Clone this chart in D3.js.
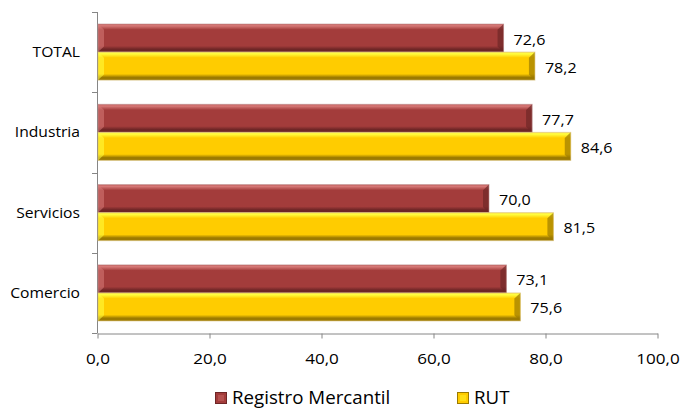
<!DOCTYPE html>
<html><head><meta charset="utf-8">
<script src="https://cdn.jsdelivr.net/npm/d3@7"></script>
<style>body{margin:0;background:#fff}svg{display:block}text{font-family:"Open Sans",sans-serif;fill:#000}</style>
</head><body><svg id="c" width="681" height="410"></svg>
<script>
const categories = ["TOTAL","Industria","Servicios","Comercio"];
const seriesNames = ["Registro Mercantil","RUT"];
const registroMercantil = [72.6, 77.7, 70.0, 73.1];
const rut = [78.2, 84.6, 81.5, 75.6];
const xTicks = [0,20,40,60,80,100];

const svg = d3.select("#c");
const W=681,H=410;
const m={left:97,right:24,top:12,bottom:77};
const x=d3.scaleLinear().domain([0,100]).range([m.left,W-m.right]);
const y=d3.scaleBand().domain(categories).range([m.top,H-m.bottom]).paddingInner(0.302).paddingOuter(0.15);
const fmt=v=>d3.format(".1f")(v).replace(".",",");

const defs=svg.append("defs");
const pal=[
  {name:"r",top:"#d77a78",main:"#a33c3b",dark:"#6e2626",edge:"#c45a58"},
  {name:"y",top:"#ffff40",main:"#ffcc00",dark:"#9c7a00",edge:"#ffe34a"}
];
pal.forEach(p=>{
  const g=defs.append("linearGradient").attr("id","g"+p.name).attr("x1",0).attr("y1",0).attr("x2",0).attr("y2",1);
  [[0,p.edge],[0.06,p.top],[0.2,p.main],[0.78,p.main],[0.9,p.dark],[1,p.dark]].forEach(s=>g.append("stop").attr("offset",s[0]).attr("stop-color",s[1]));
});

// y axis
const yAxisG=svg.append("g");
yAxisG.append("line").attr("x1",m.left+0.5).attr("x2",m.left+0.5).attr("y1",m.top).attr("y2",H-m.bottom).attr("stroke","#868686");
const bandStep=(H-m.bottom-m.top)/categories.length;
d3.range(categories.length+1).forEach(i=>{
  const yy=Math.round(m.top+i*bandStep)+0.5;
  yAxisG.append("line").attr("x1",m.left-5).attr("x2",m.left+0.5).attr("y1",yy).attr("y2",yy).attr("stroke","#868686");
});
// x axis
const xAxisG=svg.append("g").attr("transform",`translate(0.5,${H-m.bottom+0.5})`)
  .call(d3.axisBottom(x).tickValues(xTicks).tickFormat("").tickSizeInner(5).tickSizeOuter(0));
xAxisG.selectAll("line").attr("stroke","#868686");
xAxisG.select(".domain").attr("stroke","#868686");
svg.selectAll(".xt").data(xTicks).join("text").attr("class","xt")
  .attr("transform",d=>`translate(${x(d)+1},364) scale(1.22,1)`)
  .attr("text-anchor","middle").attr("font-size",14).text(fmt);

// category labels
svg.selectAll(".cat").data(categories).join("text").attr("class","cat")
  .attr("transform",d=>`translate(80,${y(d)+y.bandwidth()/2+5}) scale(1.08,1)`)
  .attr("text-anchor","end").attr("font-size",14.5).text(d=>d);

const sub=d3.scaleBand().domain([0,1]).range([0,y.bandwidth()]);
const rows=[];
categories.forEach((c,i)=>{rows.push({c,s:0,v:registroMercantil[i]});rows.push({c,s:1,v:rut[i]});});

const bar=svg.selectAll(".bar").data(rows).join("g").attr("class","bar")
  .attr("transform",d=>`translate(0,${y(d.c)+sub(d.s)})`);
const bh=sub.bandwidth();
const x0=x(0)+1;
bar.append("rect").attr("x",x0).attr("y",0).attr("width",d=>x(d.v)-x0).attr("height",bh)
  .attr("fill",d=>`url(#g${pal[d.s].name})`);
bar.append("path").attr("d",d=>`M${x0},0 L${x0+6},${bh*0.2} L${x0+6},${bh*0.8} L${x0},${bh} Z`)
  .attr("fill",d=>pal[d.s].top).attr("opacity",0.55);
bar.append("path").attr("d",d=>`M${x(d.v)},0 L${x(d.v)-6},${bh*0.2} L${x(d.v)-6},${bh*0.8} L${x(d.v)},${bh} Z`)
  .attr("fill",d=>pal[d.s].dark).attr("opacity",0.7);
bar.append("rect").attr("x",x0).attr("y",0).attr("width",d=>x(d.v)-x0).attr("height",bh)
  .attr("fill","none").attr("stroke",d=>d.s?"#d9c07a":"#b98a8a").attr("stroke-width",1).attr("opacity",0.6);
bar.append("text").attr("transform",d=>`translate(${x(d.v)+10},${bh/2+6.5}) scale(1.15,1)`)
  .attr("font-size",14).text(d=>fmt(d.v));

// legend
const lg=svg.append("g");
const items=[{n:seriesNames[0],s:0,x:215},{n:seriesNames[1],s:1,x:457}];
items.forEach(it=>{
  const p=pal[it.s];
  lg.append("rect").attr("x",it.x+0.5).attr("y",392.5).attr("width",11).attr("height",11).attr("fill",p.main).attr("stroke",p.dark).attr("stroke-width",1);
  lg.append("rect").attr("x",it.x+3).attr("y",395).attr("width",6).attr("height",6).attr("fill",p.top).attr("opacity",0.35);
  lg.append("text").attr("transform",`translate(${it.x+17},404) scale(1.04,1)`).attr("font-size",18).text(it.n);
});
</script></body></html>
